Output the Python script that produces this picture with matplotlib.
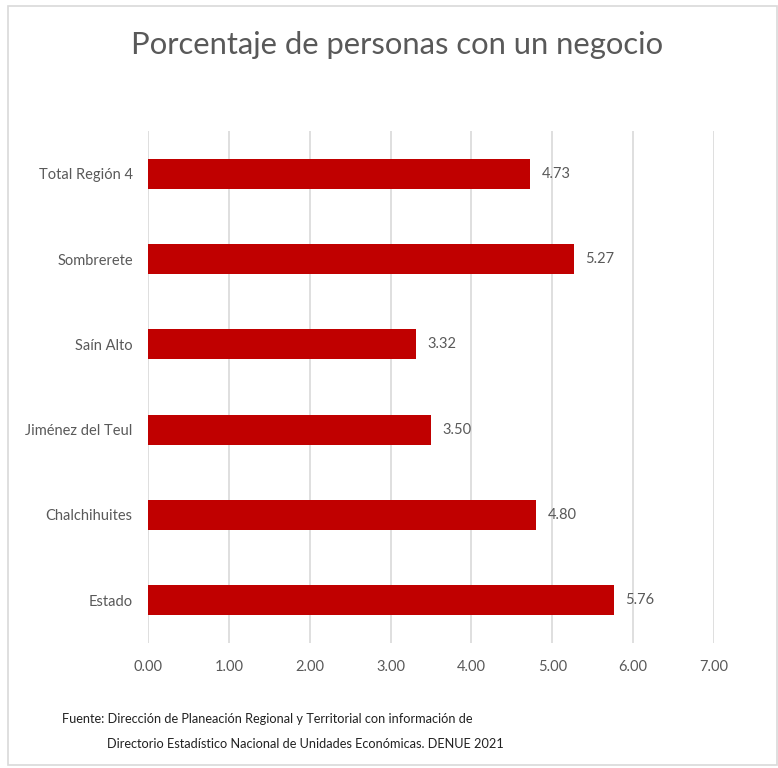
import matplotlib
matplotlib.use("Agg")
import matplotlib.pyplot as plt
from matplotlib.patches import Rectangle

categories = ["Total Región 4", "Sombrerete", "Saín Alto", "Jiménez del Teul", "Chalchihuites", "Estado"]
values = [4.73, 5.27, 3.32, 3.50, 4.80, 5.76]
xticks = [0, 1, 2, 3, 4, 5, 6, 7]

plt.rcParams['font.family'] = ['Lato', 'DejaVu Sans']
grey = "#595959"

fig = plt.figure(figsize=(7.78, 7.68), dpi=100)
fig.patches.append(Rectangle((8/778, 3/768), 769/778, 759/768, transform=fig.transFigure,
                             fill=False, edgecolor="#D9D9D9", linewidth=1.2))

ax = fig.add_axes([148/778, 1-643/768, (714-148)/778, (643-131)/768])
ypos = list(range(len(categories)))[::-1]
ax.barh(ypos, values, height=0.35, color="#C00000", zorder=3)
for y, v in zip(ypos, values):
    ax.text(v + 0.14, y, f"{v:.2f}", va="center", ha="left", fontsize=10.5, color=grey)

ax.set_xlim(0, 7)
ax.set_ylim(-0.5, len(categories) - 0.5)
ax.set_xticks(xticks)
ax.set_xticklabels([f"{t:.2f}" for t in xticks], fontsize=10.5, color=grey)
ax.set_yticks(ypos)
ax.set_yticklabels(categories, fontsize=10.5, color=grey)
ax.tick_params(axis="both", length=0)
ax.tick_params(axis="y", pad=11)
ax.tick_params(axis="x", pad=12)
ax.grid(axis="x", color="#D9D9D9", linewidth=1.2, zorder=0)
for s in ax.spines.values():
    s.set_visible(False)

fig.text(0.511, 0.941, "Porcentaje de personas con un negocio", ha="center", va="center",
         fontsize=22.3, color=grey)
fig.text(62/778, 1-719/768, "Fuente: Dirección de Planeación Regional y Territorial con información de",
         ha="left", va="center", fontsize=9.2, color="#222222")
fig.text(107/778, 1-744/768, "Directorio Estadístico Nacional de Unidades Económicas. DENUE 2021",
         ha="left", va="center", fontsize=9.2, color="#222222")

fig.savefig("out.png", dpi=100)
